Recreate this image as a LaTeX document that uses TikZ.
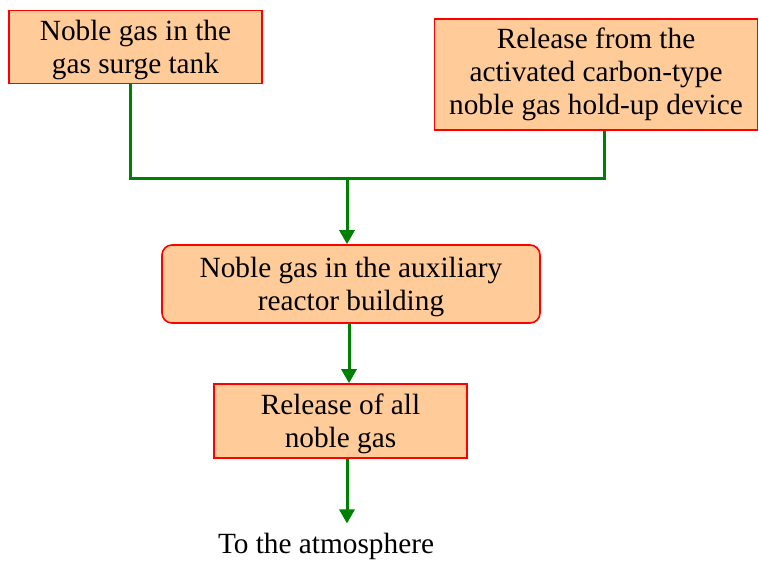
\documentclass[tikz,border=0pt]{standalone}
\usepackage{fontspec}
\setmainfont{Liberation Serif}
\usetikzlibrary{arrows.meta}
\definecolor{boxfill}{RGB}{255,204,153}
\definecolor{flowgreen}{RGB}{0,128,0}
% two centred lines, set slightly below the middle of their box
\newcommand\lowlines[1]{\raisebox{0pt}[\dimexpr\height+7pt\relax][\depth]{\begin{tabular}{@{}c@{}}#1\end{tabular}}}
\begin{document}
\begin{tikzpicture}[x=1pt,y=-1pt,
  txt/.style={font=\fontsize{29.3}{33}\selectfont},
  box/.style={txt,draw=red,line width=1.6pt,fill=boxfill,align=center,inner sep=0pt},
  flow/.style={draw=flowgreen,line width=3pt},
  flowarrow/.style={flow,-{Triangle[width=15pt,length=14pt]}}]
\useasboundingbox (0,0) rectangle (759,561);
% source boxes
\node[box,minimum width=253,minimum height=72] (b1) at (135.5,47)
  {\lowlines{Noble gas in the\\gas surge tank}};
\node[box,minimum width=323,minimum height=111] (b2) at (596,74.5)
  {Release from the\\activated carbon-type\\noble gas hold-up device};
% intermediate and final boxes
\node[box,rounded corners=10pt,minimum width=378,minimum height=78] (b3) at (351,284)
  {\lowlines{Noble gas in the auxiliary\\reactor building}};
\node[box,minimum width=253,minimum height=74] (b4) at (340.5,421)
  {\lowlines{Release of all\\noble gas}};
\node[txt,anchor=base,inner sep=0pt] (atm) at (326,553)
  {To the atmosphere};
% merging lines
\coordinate (j) at (347,179);
\draw[flow] ([xshift=-5.5]b1.south) |- (j) -| ([xshift=8]b2.south);
\draw[flowarrow] (j) -- (j |- b3.north);
\draw[flowarrow] ([xshift=-2]b3.south) -- ([xshift=-2]b3.south |- b4.north);
\draw[flowarrow,shorten >=9pt] ([xshift=6.5]b4.south) -- ([xshift=6.5]b4.south |- atm.north);
\end{tikzpicture}
\end{document}
